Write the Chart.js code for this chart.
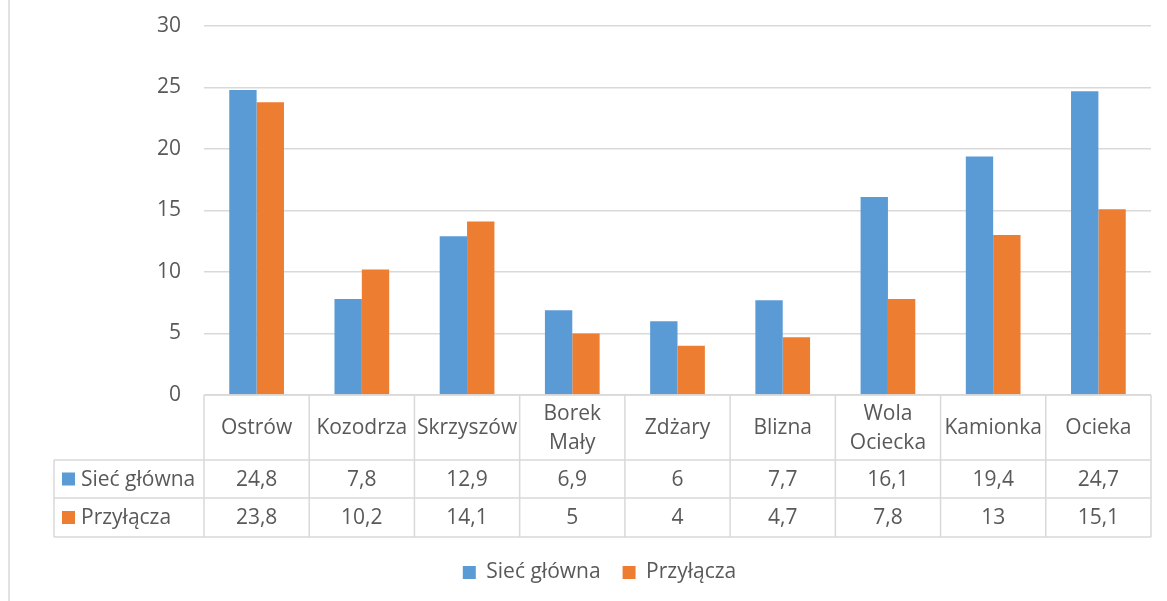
<!DOCTYPE html>
<html>
<head>
<meta charset="utf-8">
<script src="https://cdn.jsdelivr.net/npm/chart.js@4.4.1/dist/chart.umd.min.js"></script>
<style>
  html, body { margin: 0; padding: 0; background: #fff; }
</style>
</head>
<body>
<canvas id="wykres" width="1167" height="601"></canvas>
<script>
// dane
const kategorie = ['Ostrów', 'Kozodrza', 'Skrzyszów', ['Borek', 'Mały'], 'Zdżary', 'Blizna', ['Wola', 'Ociecka'], 'Kamionka', 'Ocieka'];
const siecGlowna = [24.8, 7.8, 12.9, 6.9, 6, 7.7, 16.1, 19.4, 24.7];
const przylacza = [23.8, 10.2, 14.1, 5, 4, 4.7, 7.8, 13, 15.1];
const podzialkaY = [0, 5, 10, 15, 20, 25, 30];

const nazwySerii = ['Sieć główna', 'Przyłącza'];
const kolory = ['#5b9bd5', '#ed7d31'];
const szary = '#d9d9d9';
const tekst = '#595959';
const czcionka = '"Open Sans", sans-serif';
const rozmiar = 21;

const liczba = (v) => String(v).replace('.', ',');

// tabela danych pod osia X (jak w Excelu)
const tabelaPlugin = {
  id: 'tabela',
  afterDraw(chart) {
    const ctx = chart.ctx;
    const sx = chart.scales.x;
    const area = chart.chartArea;
    const colW = (area.right - area.left) / kategorie.length;
    const y0 = area.bottom;
    const y1 = y0 + 65;
    const y2 = y1 + 38;
    const y3 = y2 + 39;
    const lewy = 54;

    ctx.save();
    ctx.strokeStyle = szary;
    ctx.lineWidth = 1.5;
    ctx.beginPath();
    // ramka wykresu po lewej
    ctx.moveTo(9, 0); ctx.lineTo(9, chart.height);
    // linie poziome
    ctx.moveTo(area.left, y0); ctx.lineTo(area.right, y0);
    [y1, y2, y3].forEach(y => { ctx.moveTo(lewy, y); ctx.lineTo(area.right, y); });
    ctx.moveTo(lewy, y1); ctx.lineTo(lewy, y3);
    // linie pionowe
    for (let i = 0; i <= kategorie.length; i++) {
      const x = sx.getPixelForValue(0) - colW / 2 + i * colW;
      ctx.moveTo(x, y0); ctx.lineTo(x, y3);
    }
    ctx.stroke();

    ctx.fillStyle = tekst;
    ctx.font = rozmiar + 'px ' + czcionka;
    ctx.textAlign = 'center';
    ctx.textBaseline = 'middle';
    kategorie.forEach((k, i) => {
      const x = sx.getPixelForValue(i);
      const linie = Array.isArray(k) ? k : [k];
      const h = 29;
      const start = (y0 + y1) / 2 + 1 - (linie.length - 1) * h / 2;
      linie.forEach((l, j) => ctx.fillText(l, x, start + j * h));
      ctx.fillText(liczba(siecGlowna[i]), x, (y1 + y2) / 2 + 1);
      ctx.fillText(liczba(przylacza[i]), x, (y2 + y3) / 2 + 1);
    });

    // nazwy serii w tabeli
    ctx.textAlign = 'left';
    [[y1, y2], [y2, y3]].forEach(([a, b], s) => {
      const cy = (a + b) / 2;
      ctx.fillStyle = kolory[s];
      ctx.fillRect(62, cy - 6.5, 13, 13);
      ctx.fillStyle = tekst;
      ctx.fillText(nazwySerii[s], 81, cy + 1);
    });
    ctx.restore();
  }
};

new Chart(document.getElementById('wykres'), {
  type: 'bar',
  data: {
    labels: kategorie,
    datasets: [
      { label: nazwySerii[0], data: siecGlowna, backgroundColor: kolory[0] },
      { label: nazwySerii[1], data: przylacza, backgroundColor: kolory[1] }
    ]
  },
  options: {
    responsive: false,
    animation: false,
    categoryPercentage: 0.52,
    barPercentage: 1,
    layout: { padding: { top: 26, right: 16, bottom: 8, left: 48 } },
    plugins: {
      tooltip: { enabled: false },
      legend: {
        position: 'bottom',
        labels: {
          boxWidth: 13,
          boxHeight: 13,
          padding: 22,
          color: tekst,
          font: { family: czcionka, size: rozmiar }
        }
      }
    },
    scales: {
      x: {
        grid: { display: false },
        border: { display: false },
        ticks: { display: false },
        afterFit: (s) => { s.height = 145; }
      },
      y: {
        min: 0,
        max: 30,
        afterBuildTicks: (s) => { s.ticks = podzialkaY.map(v => ({ value: v })); },
        afterFit: (s) => { s.width = 156; s.paddingTop = 0; s.paddingBottom = 0; },
        grid: { color: szary, lineWidth: 1.5, drawTicks: false },
        border: { display: false },
        ticks: {
          padding: 23,
          color: tekst,
          font: { family: czcionka, size: rozmiar }
        }
      }
    }
  },
  plugins: [tabelaPlugin]
});
</script>
</body>
</html>
